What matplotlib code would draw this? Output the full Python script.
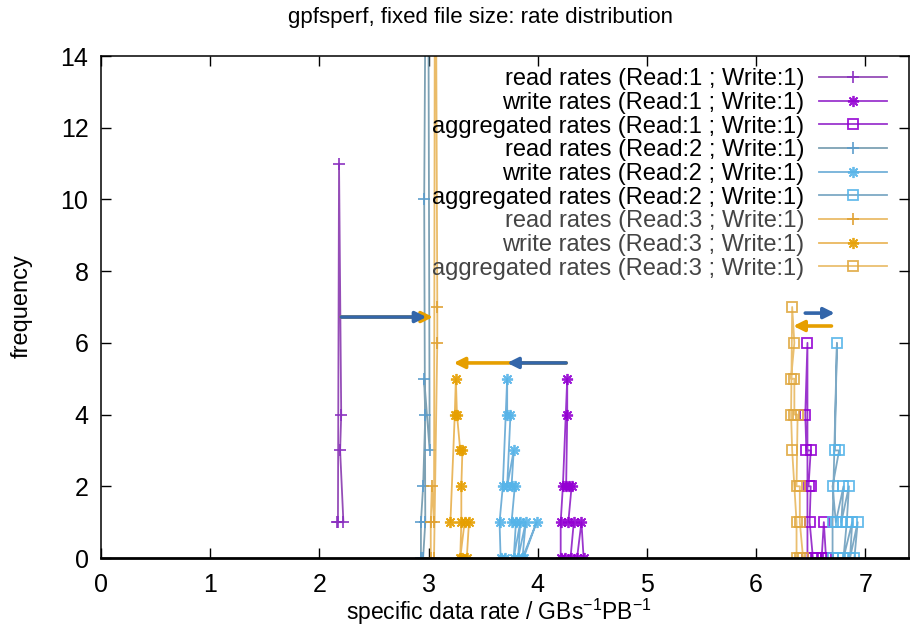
import matplotlib
matplotlib.use('Agg')
import matplotlib.pyplot as plt

plt.rcParams['font.family'] = ['Liberation Sans', 'DejaVu Sans']
plt.rcParams['mathtext.fontset'] = 'custom'
plt.rcParams['mathtext.rm'] = 'Liberation Sans'
plt.rcParams['mathtext.it'] = 'Liberation Sans'

# histogram points (rate, frequency) in file order
read_1_x = [2.17, 2.18, 2.20, 2.19, 2.22, 2.16]
read_1_y = [1, 11, 4, 3, 1, 1]
write_1_x = [4.21, 4.21, 4.23, 4.27, 4.27, 4.26, 4.29, 4.31, 4.28, 4.33, 4.30, 4.36, 4.40, 4.42, 4.25]
write_1_y = [0, 1, 2, 5, 4, 2, 2, 2, 1, 1, 0, 0, 1, 0, 0]
agg_1_x = [6.47, 6.47, 6.45, 6.46, 6.50, 6.48, 6.50, 6.49, 6.52, 6.60, 6.62, 6.64, 6.66, 6.55]
agg_1_y = [0, 6, 4, 3, 3, 2, 2, 1, 0, 0, 1, 0, 0, 0]

read_2_x = [2.93, 2.93, 2.95, 2.97, 2.96, 3.01, 2.99, 2.96, 2.97, 2.95]
read_2_y = [0, 1, 2, 4, 5, 3, 25, 10, 1, 0]
write_2_x = [3.66, 3.65, 3.68, 3.72, 3.72, 3.75, 3.72, 3.78, 3.76, 3.79, 3.76, 3.80, 3.78,
             3.84, 3.82, 3.89, 3.86, 3.99, 3.87, 3.70]
write_2_y = [0, 1, 2, 5, 4, 4, 2, 3, 2, 2, 1, 1, 0, 1, 0, 1, 0, 1, 0, 0]
agg_2_x = [6.70, 6.70, 6.74, 6.72, 6.76, 6.70, 6.73, 6.80, 6.78, 6.85, 6.83, 6.80, 6.88,
           6.86, 6.93, 6.90, 6.75]
agg_2_y = [0, 1, 6, 3, 3, 2, 1, 2, 1, 2, 1, 0, 1, 0, 1, 0, 0]

read_3_x = [3.02, 3.02, 3.03, 3.05, 3.06, 3.08, 3.08, 3.05]
read_3_y = [0, 1, 2, 1, 22, 7, 6, 0]
write_3_x = [3.20, 3.24, 3.25, 3.26, 3.29, 3.31, 3.30, 3.30, 3.29, 3.33, 3.37, 3.35, 3.31]
write_3_y = [1, 4, 5, 4, 3, 3, 2, 1, 0, 1, 1, 0, 0]
agg_3_x = [6.37, 6.37, 6.33, 6.32, 6.33, 6.35, 6.32, 6.35, 6.35, 6.38, 6.37, 6.40, 6.40, 6.43, 6.40]
agg_3_y = [0, 1, 3, 4, 7, 6, 5, 5, 4, 4, 2, 2, 1, 0, 0]

labels = ['read rates (Read:1 ; Write:1)', 'write rates (Read:1 ; Write:1)',
          'aggregated rates (Read:1 ; Write:1)', 'read rates (Read:2 ; Write:1)',
          'write rates (Read:2 ; Write:1)', 'aggregated rates (Read:2 ; Write:1)',
          'read rates (Read:3 ; Write:1)', 'write rates (Read:3 ; Write:1)',
          'aggregated rates (Read:3 ; Write:1)']

# arrows: mean shift between configurations
arrow_x0 = [2.20, 4.26, 6.69, 2.20, 4.26, 6.45]
arrow_x1 = [3.04, 3.23, 6.34, 2.98, 3.72, 6.72]
arrow_y = [6.72, 5.44, 6.47, 6.72, 5.44, 6.83]
arrow_colors = ['#e69f00', '#e69f00', '#e69f00', '#3366aa', '#3366aa', '#3366aa']

series = [
    (read_1_x, read_1_y, '+', '#8a2fc0', '#8a3ab0'),
    (write_1_x, write_1_y, (8, 2, 0), '#9400d3', '#9020c8'),
    (agg_1_x, agg_1_y, 's', '#9400d3', '#9020c8'),
    (read_2_x, read_2_y, '+', '#5a9ccc', '#6f97ac'),
    (write_2_x, write_2_y, (8, 2, 0), '#56b4e9', '#64a8d4'),
    (agg_2_x, agg_2_y, 's', '#56b4e9', '#6fa0bf'),
    (read_3_x, read_3_y, '+', '#e0a030', '#e8b458'),
    (write_3_x, write_3_y, (8, 2, 0), '#e69f00', '#e8b04c'),
    (agg_3_x, agg_3_y, 's', '#e0a840', '#e8b860'),
]

fig = plt.figure(figsize=(9.1, 6.31), dpi=100)
ax = fig.add_axes([101 / 910, 73 / 631, 808 / 910, 502 / 631])

for (xs, ys, m, mc, lc), lab in zip(series, labels):
    ax.plot(xs, ys, color=lc, lw=1.3, marker=m, ms=8 if m != 's' else 6.5,
            mec=mc, mfc='none', mew=1.3, label=lab, alpha=0.9)

for x0, x1, y, c in zip(arrow_x0, arrow_x1, arrow_y, arrow_colors):
    ax.annotate('', xy=(x1, y), xytext=(x0, y),
                arrowprops=dict(arrowstyle='-|>', color=c, lw=2.6,
                                mutation_scale=16, shrinkA=0, shrinkB=0))

ax.set_xlim(0, 7.4)
ax.set_ylim(0, 14)
ax.set_xticks(range(0, 8))
ax.set_yticks(range(0, 15, 2))
ax.tick_params(direction='in', length=7, width=1, labelsize=18,
               top=True, right=True)
ax.tick_params(axis='x', pad=11)
ax.tick_params(axis='y', pad=9)
for s in ax.spines.values():
    s.set_linewidth(1.1)
ax.spines['bottom'].set_linewidth(2)

leg = ax.legend(loc='upper right', bbox_to_anchor=(0.984, 0.994), frameon=False,
                markerfirst=False, fontsize=17, labelspacing=0.07,
                handlelength=2.85, handletextpad=0.64, borderaxespad=0)
for t in leg.get_texts()[6:]:
    t.set_color('#444444')

fig.text(481 / 910, 1 - 18 / 631, 'gpfsperf, fixed file size: rate distribution',
         ha='center', va='center', fontsize=16)
fig.text(499 / 910, 1 - 612 / 631, 'specific data rate / GBs$^{-1}$PB$^{-1}$',
         ha='center', va='center', fontsize=16.5)
fig.text(22 / 910, 1 - 306 / 631, 'frequency', ha='center', va='center',
         rotation=90, fontsize=17)

fig.savefig('out.png', dpi=100)
